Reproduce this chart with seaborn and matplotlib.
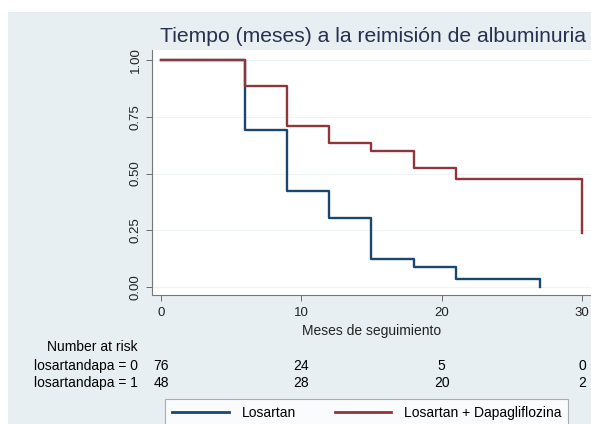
import pandas as pd
import seaborn as sns
import matplotlib.pyplot as plt
import matplotlib.transforms as mtransforms
from matplotlib.patches import Rectangle

# Kaplan-Meier steps
months_los = [0, 6, 9, 12, 15, 18, 21, 27]
surv_los = [1.0, 0.69, 0.425, 0.305, 0.125, 0.09, 0.035, 0.0]
months_dapa = [0, 6, 9, 12, 15, 18, 21, 30]
surv_dapa = [1.0, 0.885, 0.71, 0.635, 0.60, 0.525, 0.475, 0.24]

groups = ['Losartan', 'Losartan + Dapagliflozina']
colors = ['#1a476f', '#90353b']

# Number at risk table
risk_times = [0, 10, 20, 30]
risk_los = [76, 24, 5, 0]
risk_dapa = [48, 28, 20, 2]
risk_labels = ['losartandapa = 0', 'losartandapa = 1']

x_ticks = [0, 10, 20, 30]
y_ticks = [0.0, 0.25, 0.5, 0.75, 1.0]

W, H = 591, 424
BG = '#e8eff2'
FONT = 'Liberation Sans'
FS = 10

df = pd.concat([
    pd.DataFrame({'month': months_los, 'surv': surv_los, 'group': groups[0]}),
    pd.DataFrame({'month': months_dapa, 'surv': surv_dapa, 'group': groups[1]}),
])

plt.rcParams['font.family'] = [FONT, 'DejaVu Sans']

fig = plt.figure(figsize=(W / 100, H / 100), dpi=100, facecolor='white')
fig.patches.append(Rectangle((8 / W, 0), 1, 1 - 12 / H, transform=fig.transFigure,
                             facecolor=BG, edgecolor='none', zorder=-10))

ax = fig.add_axes([152 / W, 1 - 295 / H, 439 / W, 245 / H])
ax.set_facecolor('white')

sns.lineplot(
    df, x='month', y='surv', hue='group', hue_order=groups,
    palette=colors, estimator=None, sort=False, drawstyle='steps-post',
    linewidth=1.7, ax=ax, legend=False
)

ax.set_xlim(-0.64, 30.65)
ax.set_ylim(-0.035, 1.044)
ax.set_xticks(x_ticks)
ax.set_yticks(y_ticks)
ax.set_yticklabels([f'{v:.2f}' for v in y_ticks], rotation=90, va='center')
ax.tick_params(axis='both', labelsize=9.5, colors='#555555', length=4, width=0.6,
               labelcolor='#222222')
ax.tick_params(axis='x', pad=5)
ax.grid(axis='y', color='#eef3f5', linewidth=0.8)
ax.set_axisbelow(True)
for side in ['top', 'right']:
    ax.spines[side].set_visible(False)
for side in ['left', 'bottom']:
    ax.spines[side].set_color('#777777')
    ax.spines[side].set_linewidth(0.8)

ax.set_xlabel('Meses de seguimiento', fontsize=FS, color='#222222', labelpad=3)
ax.set_ylabel(None)
fig.text(373 / W, 1 - 36 / H, 'Tiempo (meses) a la reimisión de albuminuria',
         ha='center', va='center', fontsize=15.2, color='#25314f')

# Number at risk table
trans = mtransforms.blended_transform_factory(ax.transData, fig.transFigure)
fig.text(138 / W, 1 - 347 / H, 'Number at risk', ha='right', va='center', fontsize=FS)
for row_y, label, vals in [(366, risk_labels[0], risk_los), (383, risk_labels[1], risk_dapa)]:
    fig.text(138 / W, 1 - row_y / H, label, ha='right', va='center', fontsize=FS)
    for t, v in zip(risk_times, vals):
        ax.text(t, 1 - row_y / H, str(v), transform=trans, ha='center', va='center',
                fontsize=FS)

handles = [plt.Line2D([], [], color=c, linewidth=2) for c in colors]
leg = ax.legend(handles, groups, loc='upper left', ncol=2,
                bbox_to_anchor=(165 / W, 1 - 399 / H),
                bbox_transform=fig.transFigure, fontsize=FS, handlelength=4.1,
                handletextpad=0.9, columnspacing=2.8, borderpad=0.5,
                frameon=True, fancybox=False, borderaxespad=0)
leg.get_frame().set_edgecolor('#999999')
leg.get_frame().set_linewidth(0.8)

fig.savefig('out.png', dpi=100, facecolor=fig.get_facecolor())
